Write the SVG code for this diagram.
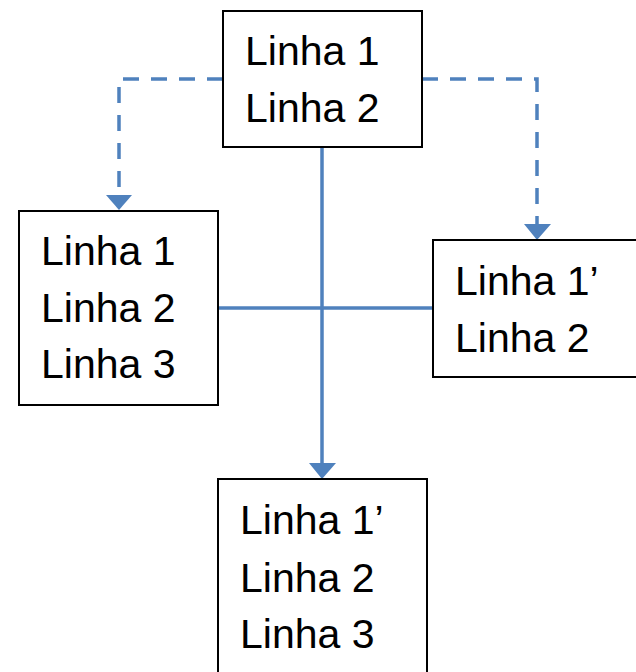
<svg xmlns="http://www.w3.org/2000/svg" width="636" height="672" viewBox="0 0 636 672">
<style>
.box{fill:#fff;stroke:#000;stroke-width:2}
.t{font-family:"Liberation Sans",Arial,sans-serif;font-size:41px;fill:#000}
.c{fill:none;stroke:#4f81bd;stroke-width:3.5}
.d{stroke-dasharray:16 12;stroke-width:3.5}
.ah{fill:#4f81bd}
</style>
<rect width="636" height="672" fill="#fff"/>
<g id="connectors">
<path class="c d" d="M223,79 H119 V196"/>
<polygon class="ah" points="106,195 132,195 119,210"/>
<path class="c d" d="M422,79 H537 V225"/>
<polygon class="ah" points="524,224 551,224 537,240"/>
<path class="c" d="M322,147 V464"/>
<polygon class="ah" points="309,463 336,463 322,479"/>
<path class="c" d="M218,308 H433"/>
</g>
<g id="top">
<rect class="box" x="223" y="11" width="199" height="136"/>
<text class="t" x="245" y="65">Linha 1</text>
<text class="t" x="245" y="122">Linha 2</text>
</g>
<g id="left">
<rect class="box" x="19" y="211" width="199" height="194"/>
<text class="t" x="41" y="265">Linha 1</text>
<text class="t" x="41" y="322">Linha 2</text>
<text class="t" x="41" y="378">Linha 3</text>
</g>
<g id="right">
<rect class="box" x="433" y="240" width="210" height="137"/>
<text class="t" x="455" y="295">Linha 1’</text>
<text class="t" x="455" y="352">Linha 2</text>
</g>
<g id="bottom">
<rect class="box" x="218" y="479" width="209" height="210"/>
<text class="t" x="240" y="534">Linha 1’</text>
<text class="t" x="240" y="592">Linha 2</text>
<text class="t" x="240" y="648">Linha 3</text>
</g>
</svg>
